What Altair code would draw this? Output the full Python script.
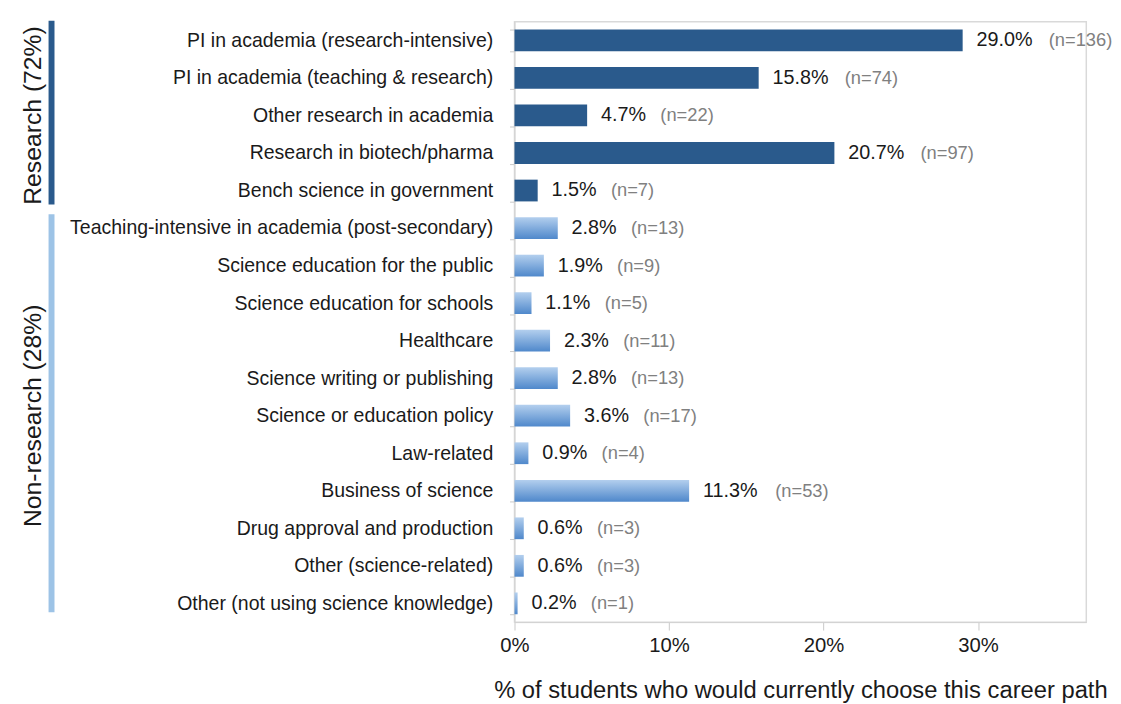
import altair as alt
import pandas as pd

categories = [
    "PI in academia (research-intensive)",
    "PI in academia (teaching & research)",
    "Other research in academia",
    "Research in biotech/pharma",
    "Bench science in government",
    "Teaching-intensive in academia (post-secondary)",
    "Science education for the public",
    "Science education for schools",
    "Healthcare",
    "Science writing or publishing",
    "Science or education policy",
    "Law-related",
    "Business of science",
    "Drug approval and production",
    "Other (science-related)",
    "Other (not using science knowledge)",
]
percents = [29.0, 15.8, 4.7, 20.7, 1.5, 2.8, 1.9, 1.1, 2.3, 2.8, 3.6, 0.9, 11.3, 0.6, 0.6, 0.2]
counts = [136, 74, 22, 97, 7, 13, 9, 5, 11, 13, 17, 4, 53, 3, 3, 1]
group_of = ["Research"] * 5 + ["Non-research"] * 11

group_names = ["Research", "Non-research"]
group_labels = ["Research (72%)", "Non-research (28%)"]
group_start = [categories[0], categories[5]]
group_end = [categories[4], categories[15]]
group_mid = [categories[2], categories[10]]

x_ticks = [0, 10, 20, 30]

FONT = "Liberation Sans"
DARK = "#2a5a8c"
LIGHT = "#9dc3e6"

df = pd.DataFrame({"cat": categories, "pct": percents, "n": counts, "group": group_of})
gdf = pd.DataFrame({"group": group_names, "label": group_labels,
                    "start": group_start, "end": group_end, "mid": group_mid})

y_scale = alt.Scale(domain=categories, paddingInner=0.42, paddingOuter=0.21)
x_scale = alt.Scale(domain=[0, 37.0], nice=False)

y_enc = alt.Y("cat:N", sort=categories, scale=y_scale, title=None,
              axis=alt.Axis(labelFont=FONT, labelFontSize=19.7, labelColor="#1a1a1a",
                            labelPadding=17, labelLimit=600, tickBand="extent",
                            tickSize=5, tickColor="#c8c8c8", domainColor="#d0d0d0",
                            grid=False))
x_enc = alt.X("pct:Q", scale=x_scale,
              title="% of students who would currently choose this career path",
              axis=alt.Axis(values=x_ticks, labelExpr="datum.value + '%'",
                            labelFlush=False,
                            labelFont=FONT, labelFontSize=20.5, labelColor="#1a1a1a",
                            labelPadding=6, tickSize=8, tickColor="#c8c8c8",
                            domainColor="#d0d0d0", grid=False,
                            titleFont=FONT, titleFontSize=24, titleFontWeight="normal",
                            titleColor="#1a1a1a", titlePadding=23))

base = alt.Chart(df)

dark_bars = base.transform_filter("datum.group == 'Research'").mark_bar(color=DARK).encode(
    x=x_enc, y=y_enc)

grad = alt.Gradient(gradient="linear",
                    stops=[alt.GradientStop(color="#b3cfee", offset=0),
                           alt.GradientStop(color="#4f88cb", offset=1)],
                    x1=0, x2=0, y1=0, y2=1)
light_bars = base.transform_filter("datum.group == 'Non-research'").mark_bar(color=grad).encode(
    x="pct:Q", y=alt.Y("cat:N", sort=categories))

pct_text = base.transform_calculate(t="format(datum.pct, '.1f') + '%'").mark_text(
    align="left", baseline="middle", dx=14, font=FONT, fontSize=20, color="#1a1a1a"
).encode(x="pct:Q", y=alt.Y("cat:N", sort=categories), text="t:N")

n_short = base.transform_filter("datum.pct < 10").transform_calculate(
    t="'(n=' + datum.n + ')'").mark_text(
    align="left", baseline="middle", dx=74, font=FONT, fontSize=18.5, color="#808080"
).encode(x="pct:Q", y=alt.Y("cat:N", sort=categories), text="t:N")

n_long = base.transform_filter("datum.pct >= 10").transform_calculate(
    t="'(n=' + datum.n + ')'").mark_text(
    align="left", baseline="middle", dx=87, font=FONT, fontSize=18.5, color="#808080"
).encode(x="pct:Q", y=alt.Y("cat:N", sort=categories), text="t:N")

gbase = alt.Chart(gdf)
rule_r = gbase.transform_filter("datum.group == 'Research'").mark_rule(
    strokeWidth=6, color=DARK, yOffset=-20, y2Offset=14).encode(
    x=alt.value(-468), y=alt.Y("start:N", sort=categories), y2="end:N")
rule_n = gbase.transform_filter("datum.group == 'Non-research'").mark_rule(
    strokeWidth=6, color=LIGHT, yOffset=-14, y2Offset=9).encode(
    x=alt.value(-468), y=alt.Y("start:N", sort=categories), y2="end:N")
glabels = gbase.mark_text(angle=270, align="center", baseline="middle",
                          font=FONT, fontSize=25, color="#1a1a1a").encode(
    x=alt.value(-487), y=alt.Y("mid:N", sort=categories), text="label:N")

chart = alt.layer(dark_bars, light_bars, pct_text, n_short, n_long,
                  rule_r, rule_n, glabels).properties(
    width=578, height=607,
    padding={"left": 12, "top": 0, "right": 0, "bottom": 0},
).configure_view(stroke="#d9d9d9", strokeWidth=1.5)

chart.save("out.html", embed_options={"renderer": "svg", "actions": False})
